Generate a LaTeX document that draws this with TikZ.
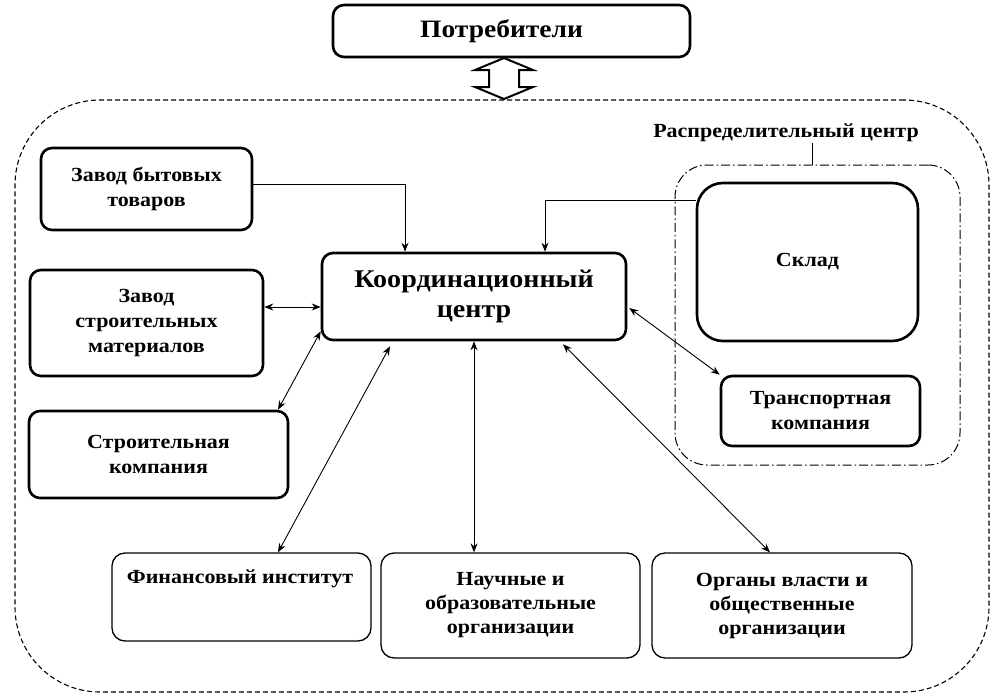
\documentclass[tikz,border=0pt]{standalone}
\usepackage{fontspec}
\setmainfont{Liberation Serif}[FakeStretch=1.1]
\usetikzlibrary{arrows.meta}
\begin{document}
\begin{tikzpicture}[x=1pt,y=-1pt,
  box/.style={draw, line width=2.6pt, rounded corners=11pt, align=center, font=\bfseries\fontsize{20}{25}\selectfont, inner sep=2pt},
  lbox/.style={draw, line width=1.3pt, rounded corners=13pt, align=center, font=\bfseries\fontsize{20}{24}\selectfont, inner sep=2pt},
  conn/.style={line width=0.9pt, -{Stealth[length=9pt,width=7pt]}},
  dconn/.style={line width=0.9pt, {Stealth[length=9pt,width=7pt]}-{Stealth[length=9pt,width=7pt]}},
]
\useasboundingbox (0,0) rectangle (1004,699);
% outer dashed frame
\node[draw, dash pattern=on 5pt off 3pt, line width=1.1pt, rounded corners=85pt, minimum width=974pt, minimum height=592pt] (outer) at (502,396) {};
% top
\node[box, minimum width=357pt, minimum height=52pt, font=\bfseries\fontsize{25}{30}\selectfont] (potr) at (511.5,31) {\hspace*{-20pt}Потребители};
% hollow double arrow
\draw[line width=2pt, line join=miter, fill=white] (504,58) -- (533,70) -- (519,70) -- (519,87) -- (533,87) -- (504,99) -- (475,87) -- (489,87) -- (489,70) -- (475,70) -- cycle;
% distribution centre
\node[font=\bfseries\fontsize{20}{24}\selectfont] (rclabel) at (786,133) {Распределительный центр};
\node[draw, dash pattern=on 9pt off 3pt on 1.5pt off 3pt, line width=1pt, rounded corners=32pt, minimum width=285pt, minimum height=300pt] (rcbox) at (817.5,315) {};
\coordinate (tk) at ([xshift=-5pt]rcbox.north);
\draw[line width=0.9pt] (tk) -- ([yshift=3pt]tk |- rclabel.south);
\node[box, rounded corners=26pt, minimum width=221pt, minimum height=158pt] (sklad) at (807.5,262) {Склад};
\node[box, minimum width=199pt, minimum height=70pt] (trans) at (820.5,411) {Транспортная\\компания};
% left
\node[box, minimum width=211pt, minimum height=82pt] (zbt) at (146.5,189) {Завод бытовых\\товаров};
\node[box, minimum width=233pt, minimum height=106pt] (zsm) at (146.5,323) {Завод\\строительных\\материалов};
\node[box, minimum width=259pt, minimum height=87pt] (sk) at (158.5,454.5) {Строительная\\компания};
% centre
\node[box, minimum width=304pt, minimum height=87pt, font=\bfseries\fontsize{25.5}{30}\selectfont] (coord) at (474,296.5) {Координационный\\центр};
% bottom
\node[lbox, minimum width=259pt, minimum height=88pt] (fin) at (241.5,597) {};
\node[font=\bfseries\fontsize{20}{24}\selectfont, anchor=base] (fintext) at (240,583) {Финансовый институт};
\node[lbox, minimum width=259pt, minimum height=105pt] (nauch) at (510.5,605.5) {Научные и\\образовательные\\организации};
\node[lbox, minimum width=260pt, minimum height=105pt] (organ) at (782,605.5) {Органы власти и\\общественные\\организации};
% connectors
\draw[conn] (zbt.east |- 0,184) -| (coord.north -| 405,0);
\draw[conn] (sklad.west |- 0,200) -| (coord.north -| 545,0);
\draw[dconn] (zsm.east |- 0,307) -- (coord.west |- 0,307);
\draw[dconn] (coord.south west) ++(0,-10) coordinate (c1) (c1) -- (sk.north -| 278,0);
\draw[dconn] (coord.south -| 390,0) ++(0,5) coordinate (c2) (c2) -- (fin.north -| 278,0);
\draw[dconn] (coord.south) -- (nauch.north -| coord.south);
\draw[dconn] (coord.south -| 563,0) ++(0,3) coordinate (c3) (c3) -- (organ.north -| 770,0);
\draw[dconn] (coord.east |- 0,308) ++(2,0) coordinate (c4) (c4) -- (trans.north west);
\end{tikzpicture}
\end{document}
